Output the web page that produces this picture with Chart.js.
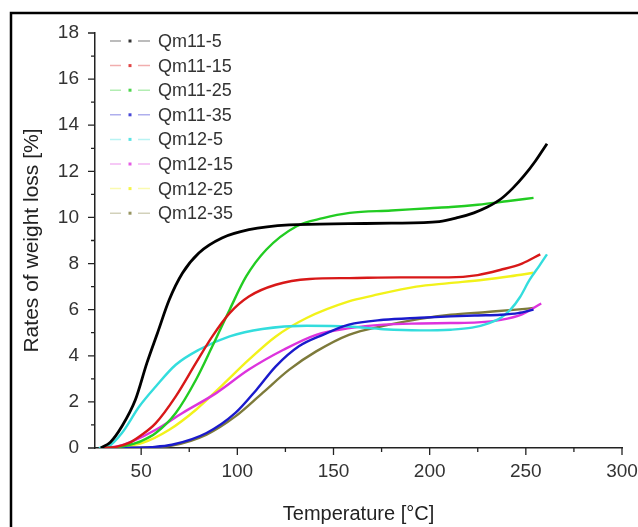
<!DOCTYPE html>
<html>
<head>
<meta charset="utf-8">
<title>Rates of weight loss</title>
<script src="https://cdn.jsdelivr.net/npm/chart.js@4.4.1/dist/chart.umd.min.js"></script>
<style>
  html, body { margin: 0; padding: 0; background: #fff; }
  canvas { display: block; }
</style>
</head>
<body>
<canvas id="lossChart" width="638" height="527"></canvas>
<script>
// Axis ticks
const xTicks = [50, 100, 150, 200, 250, 300];
const yTicks = [0, 2, 4, 6, 8, 10, 12, 14, 16, 18];

// Series names and colours
const seriesNames = ["Qm11-5", "Qm11-15", "Qm11-25", "Qm11-35", "Qm12-5", "Qm12-15", "Qm12-25", "Qm12-35"];
const seriesColors = ["#000000", "#d81818", "#22cc22", "#1a1acc", "#33dddd", "#dd33dd", "#f2f21a", "#7d7a3a"];

// Temperature [°C] / weight loss [%] for each sample
const qm11_5T = [29, 34, 40, 47, 53, 58.5, 64.6, 71.5, 80, 92, 106, 127, 158, 180, 205, 215, 223, 230, 237, 243, 249, 255, 261];
const qm11_5Y = [0, 0.25, 0.94, 2.09, 3.69, 4.99, 6.43, 7.59, 8.46, 9.11, 9.47, 9.68, 9.73, 9.75, 9.82, 10.0, 10.2, 10.45, 10.8, 11.25, 11.8, 12.45, 13.2];

const qm11_15T = [30, 37, 43.7, 50, 57.6, 68, 78.5, 87, 96, 106, 120, 137.6, 158.4, 185, 210, 225, 237, 248, 257.5];
const qm11_15Y = [0, 0.05, 0.22, 0.55, 1.08, 2.24, 3.69, 4.84, 5.85, 6.57, 7.08, 7.33, 7.37, 7.4, 7.4, 7.5, 7.73, 8.0, 8.4];

const qm11_25T = [30, 38, 44, 50, 57.6, 68, 78.5, 87, 96, 104.6, 115, 130.6, 144.5, 158.4, 180, 200, 211, 225, 240, 254];
const qm11_25Y = [0, 0.04, 0.14, 0.3, 0.65, 1.52, 2.96, 4.41, 6.0, 7.44, 8.6, 9.61, 9.97, 10.2, 10.3, 10.4, 10.45, 10.55, 10.7, 10.85];

const qm11_35T = [30, 45, 55, 66, 84, 99, 110, 120, 132, 144.5, 158, 176, 195, 211, 225, 237, 246, 254];
const qm11_35Y = [0, 0.01, 0.04, 0.14, 0.65, 1.52, 2.53, 3.54, 4.41, 4.91, 5.35, 5.56, 5.65, 5.71, 5.75, 5.78, 5.85, 6.0];

const qm12_5T = [28, 33, 40, 49, 57.6, 68, 80, 96, 113, 136, 158, 176, 195, 211, 222, 231, 237, 242, 247, 252, 257, 261];
const qm12_5Y = [0, 0.07, 0.65, 1.8, 2.67, 3.61, 4.26, 4.84, 5.16, 5.3, 5.27, 5.15, 5.1, 5.13, 5.22, 5.42, 5.65, 6.0, 6.55, 7.3, 7.9, 8.4];

const qm12_15T = [30, 38, 45.4, 57.6, 71.5, 89, 106, 124, 141, 158.4, 176, 195, 211, 225, 237, 248, 258];
const qm12_15Y = [0, 0.08, 0.29, 0.79, 1.52, 2.38, 3.4, 4.26, 4.91, 5.2, 5.35, 5.4, 5.42, 5.45, 5.56, 5.8, 6.27];

const qm12_25T = [30, 40, 50.7, 64.6, 78.5, 92.4, 106, 120, 136, 158, 170, 193, 210, 228, 242, 254];
const qm12_25Y = [0, 0.06, 0.22, 0.79, 1.66, 2.74, 3.83, 4.84, 5.64, 6.36, 6.6, 7.0, 7.15, 7.3, 7.45, 7.6];

const qm12_35T = [30, 45, 55, 66, 84, 99, 113, 127, 141, 158, 176, 195, 211, 230, 245, 254];
const qm12_35Y = [0, 0.01, 0.03, 0.1, 0.58, 1.37, 2.38, 3.4, 4.19, 4.91, 5.3, 5.6, 5.78, 5.9, 6.0, 6.07];

const seriesT = [qm11_5T, qm11_15T, qm11_25T, qm11_35T, qm12_5T, qm12_15T, qm12_25T, qm12_35T];
const seriesY = [qm11_5Y, qm11_15Y, qm11_25Y, qm11_35Y, qm12_5Y, qm12_15Y, qm12_25Y, qm12_35Y];

const FONT = "'Liberation Sans', Arial, sans-serif";
const AXIS_COLOR = "#222";

// Pair temperatures with values for a linear x axis
function toPoints(temps, values) {
  return temps.map((t, i) => ({ x: t, y: values[i] }));
}

// White page with the black frame round it
const framePlugin = {
  id: "frame",
  beforeDraw(chart) {
    const ctx = chart.ctx;
    ctx.save();
    ctx.fillStyle = "#fff";
    ctx.fillRect(0, 0, chart.width, chart.height);
    ctx.strokeStyle = "#000";
    ctx.lineWidth = 2.5;
    ctx.strokeRect(11, 13, chart.width + 40, chart.height + 40);
    ctx.restore();
  }
};

// Major and minor tick marks, pointing out of the plot
const tickMarks = {
  id: "tickMarks",
  afterDraw(chart) {
    const ctx = chart.ctx;
    const xs = chart.scales.x;
    const ys = chart.scales.y;
    ctx.save();
    ctx.strokeStyle = AXIS_COLOR;
    ctx.lineWidth = 1.3;
    ctx.beginPath();
    yTicks.forEach((v, i) => {
      const py = ys.getPixelForValue(v);
      ctx.moveTo(xs.left, py);
      ctx.lineTo(xs.left - 7, py);
      if (i < yTicks.length - 1) {
        const pm = ys.getPixelForValue((v + yTicks[i + 1]) / 2);
        ctx.moveTo(xs.left, pm);
        ctx.lineTo(xs.left - 4, pm);
      }
    });
    xTicks.forEach((v, i) => {
      const px = xs.getPixelForValue(v);
      ctx.moveTo(px, ys.bottom);
      ctx.lineTo(px, ys.bottom + 7);
      if (i > 0) {
        const pm = xs.getPixelForValue((v + xTicks[i - 1]) / 2);
        ctx.moveTo(pm, ys.bottom);
        ctx.lineTo(pm, ys.bottom + 4);
      }
    });
    ctx.stroke();
    ctx.restore();
  }
};

// Legend in the upper left of the plot, dash-dot samples in faded colours
const cornerLegend = {
  id: "cornerLegend",
  afterDraw(chart) {
    const ctx = chart.ctx;
    ctx.save();
    ctx.font = "18px " + FONT;
    ctx.textBaseline = "middle";
    chart.data.datasets.forEach((ds, i) => {
      const y = 41 + i * 24.6;
      ctx.globalAlpha = 0.35;
      ctx.strokeStyle = ds.borderColor;
      ctx.lineWidth = 1.5;
      ctx.beginPath();
      ctx.moveTo(110, y); ctx.lineTo(121, y);
      ctx.moveTo(138, y); ctx.lineTo(150, y);
      ctx.stroke();
      ctx.globalAlpha = 0.8;
      ctx.fillStyle = ds.borderColor;
      ctx.fillRect(128.5, y - 1.5, 3, 3);
      ctx.globalAlpha = 1;
      ctx.fillStyle = "#333";
      ctx.fillText(ds.label, 158, y + 1);
    });
    ctx.restore();
  }
};

document.addEventListener("DOMContentLoaded", () => {
  const datasets = seriesNames.map((name, i) => ({
    label: name,
    data: toPoints(seriesT[i], seriesY[i]),
    borderColor: seriesColors[i],
    backgroundColor: seriesColors[i],
    borderWidth: i === 0 ? 2.8 : 2.4,
    pointRadius: 0,
    cubicInterpolationMode: "monotone",
    fill: false
  }));

  new Chart(document.getElementById("lossChart").getContext("2d"), {
    type: "line",
    data: { datasets: datasets },
    options: {
      responsive: false,
      animation: false,
      layout: { padding: { left: 0, right: 16, top: 33, bottom: 0 } },
      plugins: {
        legend: { display: false },
        tooltip: { enabled: false }
      },
      scales: {
        x: {
          type: "linear",
          min: 26,
          max: 300,
          afterFit: scale => {
            scale.height = 79;
            // let the "300" label run off the edge instead of shrinking the plot
            scale.paddingLeft = 0;
            scale.paddingRight = 0;
          },
          afterBuildTicks: scale => { scale.ticks = xTicks.map(v => ({ value: v })); },
          grid: { display: false, drawTicks: false },
          border: { display: true, color: AXIS_COLOR, width: 1.5 },
          ticks: { color: "#333", padding: 12, maxRotation: 0, autoSkip: false, font: { family: FONT, size: 19 } },
          title: {
            display: true,
            text: "Temperature [°C]",
            color: "#222",
            font: { family: FONT, size: 20 },
            padding: { top: 0, bottom: 1 }
          }
        },
        y: {
          min: 0,
          max: 18,
          afterFit: scale => {
            scale.width = 95;
            scale.paddingTop = 0;
            scale.paddingBottom = 0;
          },
          afterBuildTicks: scale => { scale.ticks = yTicks.map(v => ({ value: v })); },
          grid: { display: false, drawTicks: false },
          border: { display: true, color: AXIS_COLOR, width: 1.5 },
          ticks: { color: "#333", padding: 16, font: { family: FONT, size: 19 } },
          title: {
            display: true,
            text: "Rates of weight loss [%]",
            color: "#222",
            font: { family: FONT, size: 21 },
            padding: { top: 20, bottom: 0 }
          }
        }
      }
    },
    plugins: [framePlugin, tickMarks, cornerLegend]
  });
});
</script>
</body>
</html>
